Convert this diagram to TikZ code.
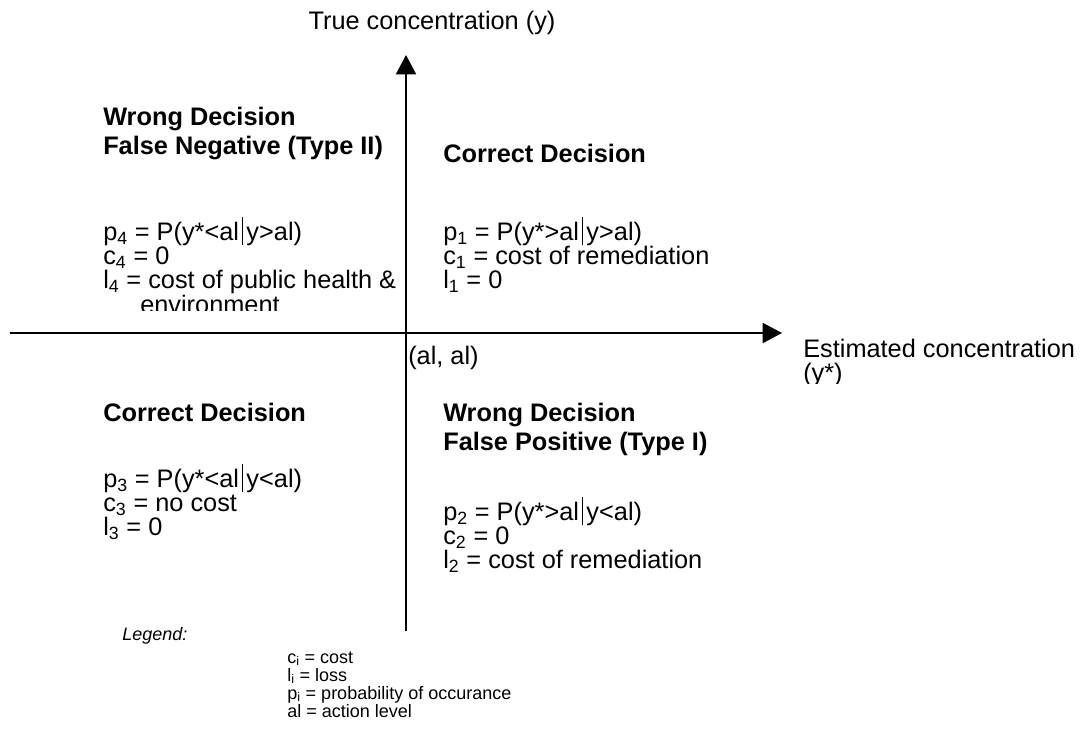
\documentclass[tikz,border=0pt]{standalone}
\usepackage{fontspec}
\setmainfont{Liberation Sans}
\usetikzlibrary{arrows.meta}
\newcommand{\vbar}{\hspace{0.12em}\rule[-0.2em]{0.05em}{1.1em}\hspace{0.12em}}
\newcommand{\sub}[1]{\textsubscript{#1}}
\begin{document}
\begin{tikzpicture}[x=0.75pt,y=-0.75pt,
  txt/.style={anchor=base west, inner sep=0pt, font=\fontsize{19}{18}\selectfont},
  hdr/.style={anchor=base west, inner sep=0pt, font=\fontsize{19}{18}\selectfont\bfseries},
  leg/.style={anchor=base west, inner sep=0pt, font=\fontsize{13.5}{13.5}\selectfont},
  axisline/.style={line width=1.5pt, -{Triangle[length=14.5pt,width=15pt]}}]
\useasboundingbox (0,0) rectangle (1088,744);

% axes
\coordinate (ybot) at (406,631);
\coordinate (ytop) at (406,55);
\coordinate (xl) at (10,333);
\coordinate (xr) at (782,333);
\draw[axisline] (ybot) -- (ytop);
\draw[axisline] (xl) -- (xr);

% axis labels
\node[txt, anchor=base] (ylab) at (432,29) {True concentration (y)};
\begin{scope}
\clip (795,335) rectangle (1088,383);
\node[txt] (xlab1) at (803,357) {Estimated concentration};
\node[txt] (xlab2) at (803,381) {(y*)};
\end{scope}
\node[txt] (origin) at (408,364) {(al, al)};

% top-left quadrant
\begin{scope}
\clip (90,95) rectangle (404,310);
\node[hdr] (tl1) at (103,125) {Wrong Decision};
\node[hdr] (tl2) at (103,154) {False Negative (Type II)};
\node[txt] (tl3) at (103,240) {p\sub{4} = P(y*<al\vbar y>al)};
\node[txt] (tl4) at (103,264) {c\sub{4} = 0};
\node[txt] (tl5) at (103,288) {l\sub{4} = cost of public health \&};
\node[txt] (tl6) at (140,313) {environment};
\end{scope}

% top-right quadrant
\node[hdr] (tr1) at (443,162) {Correct Decision};
\node[txt] (tr2) at (443,240) {p\sub{1} = P(y*>al\vbar y>al)};
\node[txt] (tr3) at (443,264) {c\sub{1} = cost of remediation};
\node[txt] (tr4) at (443,288) {l\sub{1} = 0};

% bottom-left quadrant
\node[hdr] (bl1) at (103,421) {Correct Decision};
\node[txt] (bl2) at (103,487) {p\sub{3} = P(y*<al\vbar y<al)};
\node[txt] (bl3) at (103,511) {c\sub{3} = no cost};
\node[txt] (bl4) at (103,535) {l\sub{3} = 0};

% bottom-right quadrant
\node[hdr] (br1) at (443,421) {Wrong Decision};
\node[hdr] (br2) at (443,450) {False Positive (Type I)};
\node[txt] (br3) at (443,520) {p\sub{2} = P(y*>al\vbar y<al)};
\node[txt] (br4) at (443,544) {c\sub{2} = 0};
\node[txt] (br5) at (443,568) {l\sub{2} = cost of remediation};

% legend
\node[leg, font=\fontsize{13.5}{13.5}\selectfont\itshape] (legt) at (122,640) {Legend:};
\node[leg] (leg1) at (287,663) {c\sub{i} = cost};
\node[leg] (leg2) at (287,681) {l\sub{i} = loss};
\node[leg] (leg3) at (287,699) {p\sub{i} = probability of occurance};
\node[leg] (leg4) at (287,717) {al = action level};
\end{tikzpicture}
\end{document}
